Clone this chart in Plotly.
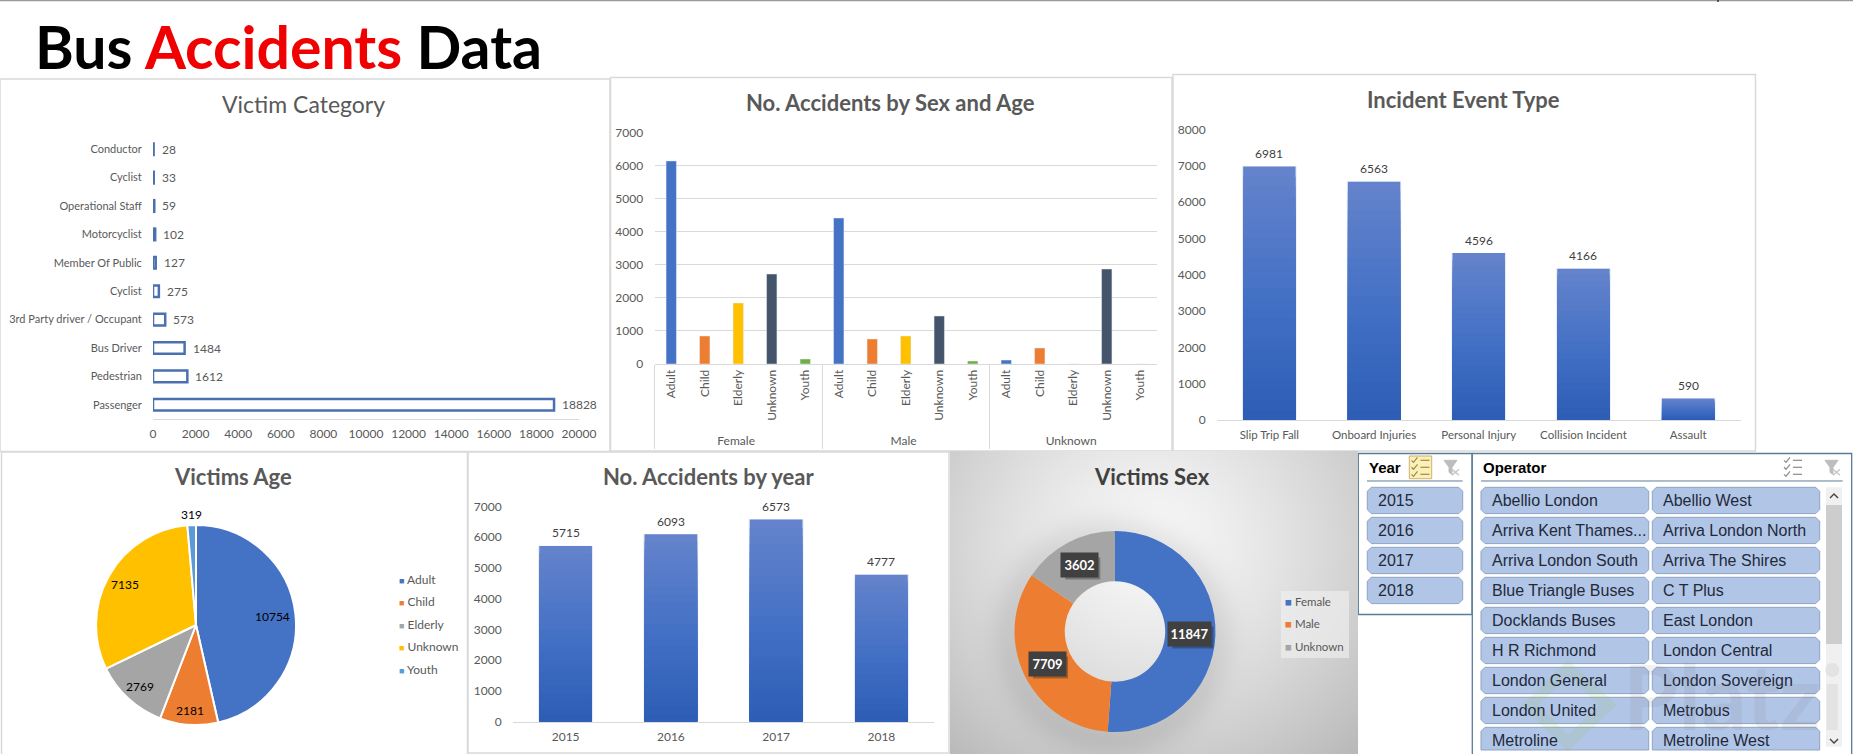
#!/usr/bin/env python3
import numpy as np
import plotly.graph_objects as go

W, H = 1853, 754
FONT = "Lato"
SLICER_FONT = "Liberation Sans"
GREY = "#595959"

victim_labels = ["Conductor", "Cyclist", "Operational Staff", "Motorcyclist", "Member Of Public",
                 "Cyclist", "3rd Party driver / Occupant", "Bus Driver", "Pedestrian", "Passenger"]
victim_values = [28, 33, 59, 102, 127, 275, 573, 1484, 1612, 18828]

sex_levels = ["Female"] * 5 + ["Male"] * 5 + ["Unknown"] * 5
age_levels = ["Adult", "Child", "Elderly", "Unknown", "Youth"] * 3
sex_age_values = [6134, 846, 1843, 2719, 151,
                  4411, 755, 846, 1450, 90,
                  120, 483, 0, 2870, 0]
age_colors = ["#4472C4", "#ED7D31", "#FFC000", "#44546A", "#70AD47"] * 3

event_labels = ["Slip Trip Fall", "Onboard Injuries", "Personal Injury", "Collision Incident", "Assault"]
event_values = [6981, 6563, 4596, 4166, 590]

pie_labels = ["Adult", "Child", "Elderly", "Unknown", "Youth"]
pie_values = [10754, 2181, 2769, 7135, 319]
pie_colors = ["#4472C4", "#ED7D31", "#A5A5A5", "#FFC000", "#5B9BD5"]

year_labels = ["2015", "2016", "2017", "2018"]
year_values = [5715, 6093, 6573, 4777]

sex_labels = ["Female", "Male", "Unknown"]
sex_values = [11847, 7709, 3602]
sex_colors = ["#4472C4", "#ED7D31", "#A5A5A5"]

operators = ["Abellio London", "Abellio West", "Arriva Kent Thames...", "Arriva London North",
             "Arriva London South", "Arriva The Shires", "Blue Triangle Buses", "C T Plus",
             "Docklands Buses", "East London", "H R Richmond", "London Central",
             "London General", "London Sovereign", "London United", "Metrobus",
             "Metroline", "Metroline West"]


def px(x):
    return x / W


def py(y):
    return 1 - y / H


def dom_x(a, b):
    return [px(a), px(b)]


def dom_y(top, bottom):
    return [py(bottom), py(top)]


shapes = []
annotations = []


def note(text, x, y, size=12, color=GREY, anchor="center", family=FONT, **kw):
    annotations.append(dict(text=text, x=px(x), y=py(y), xref="paper", yref="paper", showarrow=False,
                            xanchor=anchor, yanchor="middle", font=dict(size=size, color=color, family=family), **kw))


def value_label(v, x, y, xref, yref, color="#404040", anchor="center", xshift=0, yshift=0):
    # sits on the data axes, Excel leaves more air over a bar than textposition outside does
    annotations.append(dict(text=str(v), x=x, y=y, xref=xref, yref=yref, showarrow=False, xanchor=anchor,
                            yanchor="middle", xshift=xshift, yshift=yshift,
                            font=dict(size=12, color=color, family=FONT)))


def box(x0, y0, x1, y1, fill="white", line="#D9D9D9", lw=1.5, layer="below"):
    shapes.append(dict(type="rect", xref="paper", yref="paper", x0=px(x0), x1=px(x1), y0=py(y0), y1=py(y1),
                       fillcolor=fill, line=dict(color=line, width=lw), layer=layer))


def path(d, fill=None, line="#888888", lw=1.2, layer="below"):
    # points in pixels, converted to paper
    out = ""
    for cmd in d:
        if cmd[0] == "Z":
            out += "Z"
        else:
            out += "%s%.5f,%.5f " % (cmd[0], px(cmd[1]), py(cmd[2]))
    shapes.append(dict(type="path", xref="paper", yref="paper", path=out, fillcolor=fill or "rgba(0,0,0,0)",
                       line=dict(color=line, width=lw), layer=layer))


def button(x0, y0, x1, y1, flat_bottom=False):
    r = 4
    d = [("M", x0 + r, y0), ("L", x1 - r, y0), ("L", x1, y0 + r)]
    if flat_bottom:
        d += [("L", x1, y1), ("L", x0, y1)]
    else:
        d += [("L", x1, y1 - r), ("L", x1 - r, y1), ("L", x0 + r, y1), ("L", x0, y1 - r)]
    d += [("L", x0, y0 + r), ("Z",)]
    path(d, fill="#B1C5E7", line="#8EA3C4", lw=1)


def checklist_icon(cx, cy, color):
    for i, dy in enumerate([-7, 0, 7]):
        path([("M", cx - 9, cy + dy), ("L", cx - 7, cy + dy + 2), ("L", cx - 3, cy + dy - 3)], line=color, lw=1.2)
        path([("M", cx, cy + dy), ("L", cx + 9, cy + dy)], line=color, lw=1.2)


def filter_icon(cx, cy):
    path([("M", cx - 7, cy - 7), ("L", cx + 6, cy - 7), ("L", cx + 1, cy), ("L", cx + 1, cy + 7),
          ("L", cx - 2, cy + 5), ("L", cx - 2, cy), ("Z",)], fill="#BDBDBD", line="#BDBDBD", lw=1)
    path([("M", cx + 1, cy + 2), ("L", cx + 8, cy + 8)], line="#C4C4C4", lw=1.3)
    path([("M", cx + 8, cy + 2), ("L", cx + 1, cy + 8)], line="#C4C4C4", lw=1.3)


def gradient_bars(x, values, xa, ya, width=0.5):
    # top of each bar lighter, foot darker, as the Excel fill does it
    top, mid, foot = np.array([0x64, 0x83, 0xCC]), np.array([0x41, 0x6F, 0xC5]), np.array([0x2D, 0x5C, 0xB4])
    vals = np.array(values, dtype=float)
    traces = [go.Bar(x=x, y=vals, width=width + 0.015, marker=dict(color="rgba(68,114,196,0.22)"),
                     xaxis=xa, yaxis=ya)]
    for f in np.linspace(1, 0.04, 25):
        c = foot + (mid - foot) * f / 0.45 if f < 0.45 else mid + (top - mid) * (f - 0.45) / 0.55
        traces.append(go.Bar(x=x, y=vals * f, width=width, xaxis=xa, yaxis=ya,
                             marker=dict(color="rgb(%d,%d,%d)" % tuple(c), line=dict(width=0))))
    return traces


def ring_label_xy(values, cx, cy, radii):
    total, run, out = sum(values), 0, []
    for v, r in zip(values, radii):
        a = np.radians((run + v / 2) / total * 360)
        out.append((cx + r * np.sin(a), cy - r * np.cos(a)))
        run += v
    return out


fig = go.Figure()

# page furniture
shapes.append(dict(type="line", xref="paper", yref="paper", x0=0, x1=1, y0=py(0.5), y1=py(0.5),
                   line=dict(color="#9A9A9A", width=1.5), layer="below"))
path([("M", 1718, 0), ("L", 1718, 2)], line="#333333", lw=1.5)
box(0, 79, 610, 451.5)
box(610.5, 77.5, 1172, 451)
box(1173, 74.5, 1755.5, 451)
box(1.5, 452, 467.5, 760)
box(468, 452, 949, 753)

note('<b>Bus <span style="color:#F00000">Accidents</span> Data</b>', 33, 47, size=59, color="black", anchor="left")

# background of the donut panel: radial grey plus the soft shadow around the ring
bg_x = np.linspace(950, 1358, 120)
bg_y = np.linspace(451, 754, 90)
gx, gy = np.meshgrid(bg_x, bg_y)
dist = np.hypot((gx - 1150) / 290, (gy - 545) / 270)
dr = np.hypot(gx - 1112, gy - 636)
bg_z = 248 - 60 * np.clip(dist, 0, 1.15) ** 1.3 - 20 * np.exp(-((dr - 100) / 22) ** 2)
fig.add_trace(go.Heatmap(x=bg_x, y=bg_y, z=bg_z, zmin=0, zmax=255, zsmooth="best", showscale=False,
                         colorscale=[[0, "rgb(0,0,0)"], [1, "rgb(255,255,255)"]], xaxis="x5", yaxis="y5",
                         hoverinfo="skip"))

# Victim Category
victim_rows = list(range(len(victim_values)))
fig.add_trace(go.Bar(y=victim_rows, x=victim_values, orientation="h", width=0.41,
                     marker=dict(color="white", line=dict(color="#4A70B0", width=2.5)), xaxis="x", yaxis="y"))
for row, v in zip(victim_rows, victim_values):
    value_label(v, v, row, "x", "y", color=GREY, anchor="left", xshift=6)
note("Victim Category", 303.7, 103.5, size=23, color="#595959")

# No. Accidents by Sex and Age
fig.add_trace(go.Bar(x=[sex_levels, age_levels], y=sex_age_values, width=0.31, marker=dict(color=age_colors),
                     xaxis="x2", yaxis="y2"))
note("<b>No. Accidents by Sex and Age</b>", 890.6, 102.7, size=22, color="#595959")

# Incident Event Type
for t in gradient_bars(event_labels, event_values, "x3", "y3"):
    fig.add_trace(t)
for i, v in enumerate(event_values):
    value_label(v, i, v, "x3", "y3", yshift=13)
note("<b>Incident Event Type</b>", 1463.7, 100, size=22, color="#595959")

# Victims Age
fig.add_trace(go.Pie(labels=pie_labels, values=pie_values, sort=False, direction="clockwise", rotation=0,
                     textinfo="none", marker=dict(colors=pie_colors, line=dict(color="white", width=2)),
                     domain=dict(x=dom_x(96, 296), y=dom_y(525, 725)), showlegend=False))
note("<b>Victims Age</b>", 233, 477, size=22, color="#595959")
for v, (lx, ly) in zip(pie_values, ring_label_xy(pie_values, 196, 625, [77, 86, 83, 82, 111])):
    note(str(v), lx, ly, size=12, color="black")
for i, (name, col) in enumerate(zip(pie_labels, pie_colors)):
    note('<span style="color:%s;font-size:9px">■</span> %s' % (col, name), 397, 579 + 22.5 * i, size=12, anchor="left")

# No. Accidents by year
for t in gradient_bars(year_labels, year_values, "x4", "y4"):
    fig.add_trace(t)
# years as category position: a "2015" string on an annotation gets read as a number
for i, v in enumerate(year_values):
    value_label(v, i, v, "x4", "y4", yshift=13)
note("<b>No. Accidents by year</b>", 709, 476.7, size=22, color="#595959")

# Victims Sex
fig.add_trace(go.Pie(labels=sex_labels, values=sex_values, sort=False, direction="clockwise", rotation=0, hole=0.5,
                     textinfo="none", marker=dict(colors=sex_colors, line=dict(width=0)),
                     domain=dict(x=dom_x(1014.5, 1215.5), y=dom_y(531, 732)), showlegend=False))
note("<b>Victims Sex</b>", 1152, 476.7, size=22, color="#404040")
for v, (lx, ly) in zip(sex_values, ring_label_xy(sex_values, 1115, 631.7, [75, 75, 75])):
    half = 20.5 if v > 9999 else 17.5
    box(lx - half + 3, ly - 11 + 3, lx + half + 3, ly + 11 + 3, fill="rgba(0,0,0,0.28)",
        line="rgba(0,0,0,0)", lw=0, layer="above")
    note("<b>%d</b>" % v, lx, ly, size=13, color="white", bgcolor="#404040", width=2 * half, height=22)
box(1281, 591, 1349, 658, fill="rgba(240,240,240,0.65)", line="rgba(0,0,0,0)", lw=0, layer="above")
for i, (name, col) in enumerate(zip(sex_labels, sex_colors)):
    note('<span style="color:%s">■</span> %s' % (col, name), 1283, 601 + 22.5 * i, size=11.5, anchor="left")

# Year slicer
box(1358.3, 453.5, 1472, 614.5, line="#5B7B97", lw=1.3)
note("<b>Year</b>", 1367, 467.3, size=15, color="black", anchor="left", family=SLICER_FONT)
path([("M", 1367, 481), ("L", 1462.7, 481)], line="#5B7B97", lw=1)
box(1409.3, 456, 1431.7, 478.7, fill="#FCEFB8", line="#C9B36E", lw=1)
checklist_icon(1420.5, 467.3, "#9C8B4A")
filter_icon(1451, 467.3)
for i, y in enumerate(year_labels):
    top = 487.3 + 30 * i
    button(1367.3, top, 1462.7, top + 26.3)
    note(y, 1376, top + 13, size=16, color="#1F2A3A", anchor="left", family=SLICER_FONT)

# Operator slicer
box(1472.3, 453.5, 1851.7, 760, line="#5B7B97", lw=1.3)
note("<b>Operator</b>", 1481, 467.3, size=15, color="black", anchor="left", family=SLICER_FONT)
path([("M", 1481, 481), ("L", 1842.7, 481)], line="#5B7B97", lw=1)
checklist_icon(1793, 467.3, "#8A8A8A")
filter_icon(1832, 467.3)
for i, name in enumerate(operators):
    row, col = i // 2, i % 2
    top = 487.3 + 30 * row
    x0, x1, tx = (1481, 1648.7, 1490) if col == 0 else (1652.3, 1819.7, 1661)
    clipped = top + 26.3 > 750
    button(x0, top, x1, min(top + 26.3, 750), flat_bottom=clipped)
    note(name, tx, top + 13, size=16, color="#1F2A3A", anchor="left", family=SLICER_FONT)
box(1826, 487.3, 1842, 746.7, fill="#F0F0F0", line="rgba(0,0,0,0)", lw=0)
box(1826, 505, 1842, 644, fill="#CDCDCD", line="rgba(0,0,0,0)", lw=0)
path([("M", 1830, 498), ("L", 1834, 494), ("L", 1838, 498)], line="#444444", lw=1.4)
path([("M", 1830, 739), ("L", 1834, 743), ("L", 1838, 739)], line="#444444", lw=1.4)

# faint watermark over the slicer
note("<b>Platzi</b>", 1733, 695, size=90, color="rgba(120,120,120,0.10)")
path([("M", 1568, 668), ("L", 1608, 705), ("L", 1568, 743), ("L", 1530, 705), ("Z",)],
     line="rgba(150,200,70,0.13)", lw=12, layer="above")

tick_font = dict(size=12, color=GREY, family=FONT)
hidden_tick = dict(ticks="outside", ticklen=8, tickcolor="rgba(0,0,0,0)", tickfont=tick_font, tickformat="d")
# x axes sit a bit closer to their labels than the y axes
under_tick = dict(ticks="outside", ticklen=4, tickcolor="rgba(0,0,0,0)", tickformat="d")
fig.update_layout(
    width=W, height=H, margin=dict(l=0, r=0, t=0, b=0), showlegend=False, barmode="overlay", hovermode=False,
    paper_bgcolor="white", plot_bgcolor="rgba(0,0,0,0)", shapes=shapes, annotations=annotations,
    xaxis=dict(domain=dom_x(153, 579), range=[0, 20000], dtick=2000, showgrid=False, zeroline=False, showline=True,
               linecolor="#D9D9D9", anchor="y", tickfont=tick_font, **under_tick),
    yaxis=dict(domain=dom_y(135, 419), range=[9.5, -0.5], tickmode="array", tickvals=victim_rows,
               ticktext=victim_labels, showgrid=False, zeroline=False, anchor="x",
               ticks="outside", ticklen=8, tickcolor="rgba(0,0,0,0)", tickfont=dict(size=11, color=GREY, family=FONT)),
    xaxis2=dict(domain=dom_x(654.5, 1157), type="multicategory", tickangle=-90, showgrid=False, zeroline=False,
                showline=True, linecolor="#D9D9D9", showdividers=True, dividercolor="#D9D9D9", dividerwidth=1,
                anchor="y2", tickfont=tick_font),
    yaxis2=dict(domain=dom_y(132.3, 364), range=[0, 7000], dtick=1000, gridcolor="#D9D9D9", zeroline=False,
                anchor="x2", **hidden_tick),
    xaxis3=dict(domain=dom_x(1217, 1740.5), type="category", range=[-0.5, 4.5], showgrid=False, zeroline=False,
                showline=True, linecolor="#D9D9D9", anchor="y3", tickfont=dict(size=11.5, color=GREY, family=FONT),
                **under_tick),
    yaxis3=dict(domain=dom_y(129.5, 420), range=[0, 8000], dtick=1000, showgrid=False, zeroline=False,
                anchor="x3", **hidden_tick),
    xaxis4=dict(domain=dom_x(513, 934), type="category", range=[-0.5, 3.5], showgrid=False, zeroline=False,
                showline=True, linecolor="#D9D9D9", anchor="y4", tickfont=tick_font, **under_tick),
    yaxis4=dict(domain=dom_y(506.5, 721.5), range=[0, 7000], dtick=1000, showgrid=False, zeroline=False,
                anchor="x4", **hidden_tick),
    xaxis5=dict(domain=dom_x(950, 1358), range=[950, 1358], visible=False, anchor="y5"),
    yaxis5=dict(domain=dom_y(451, 754), range=[754, 451], visible=False, anchor="x5"),
)
# default template lets the tick labels eat the margins and shrink everything
fig.update_xaxes(automargin=False)
fig.update_yaxes(automargin=False)

fig.write_html("out.html", post_script="document.body.style.margin='0';", config={"displayModeBar": False})
